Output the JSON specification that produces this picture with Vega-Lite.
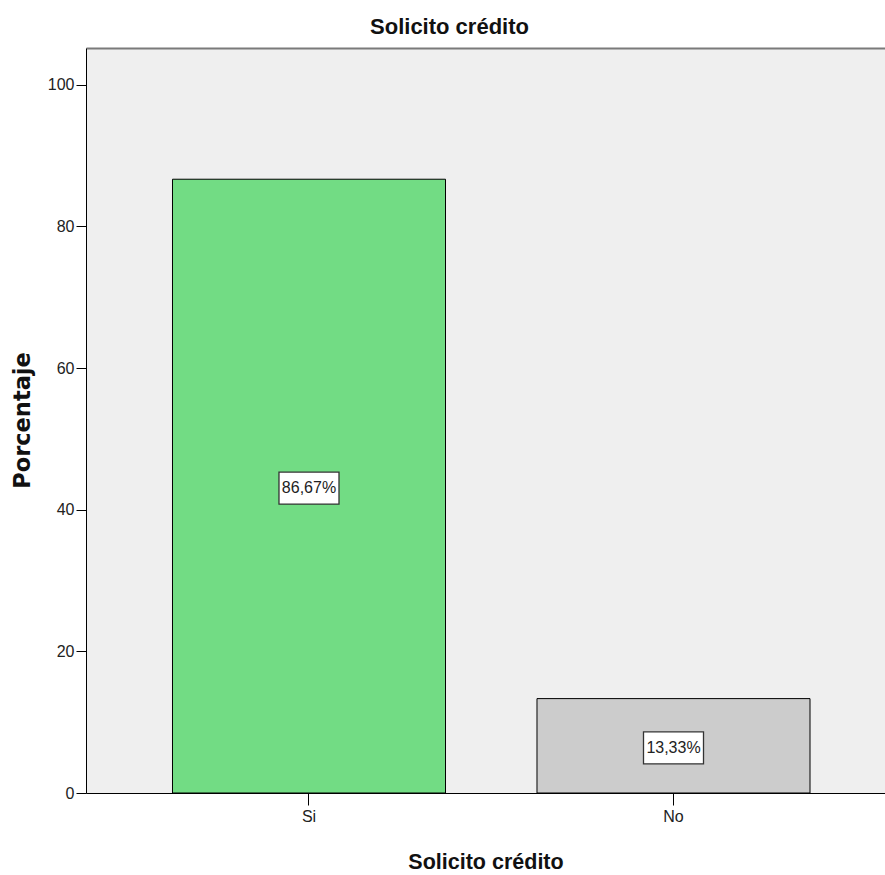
{
  "$schema": "https://vega.github.io/schema/vega-lite/v6.json",
  "width": 799,
  "height": 745,
  "autosize": {"type": "none"},
  "padding": {"left": 86, "top": 48, "right": 0, "bottom": 82},
  "background": "white",
  "title": {
    "text": "Solicito crédito",
    "font": "Liberation Sans, Arial, sans-serif",
    "fontSize": 22,
    "fontWeight": "bold",
    "color": "#111111",
    "anchor": "middle",
    "dx": -36,
    "dy": 22,
    "offset": 14,
    "baseline": "alphabetic"
  },
  "config": {
    "view": {"fill": "#efefef", "stroke": null}
  },
  "data": {
    "values": [
      {"categoria": "Si", "pct": 86.67, "label": "86,67%"},
      {"categoria": "No", "pct": 13.33, "label": "13,33%"}
    ]
  },
  "resolve": {"scale": {"y": "independent"}, "axis": {"x": "independent", "y": "independent"}},
  "layer": [
    {
      "mark": {"type": "bar", "stroke": "#000000", "strokeWidth": 1},
      "encoding": {
        "x": {
          "field": "categoria",
          "type": "nominal",
          "sort": ["Si", "No"],
          "scale": {"paddingInner": 0.251, "paddingOuter": 0.2215, "align": 0.5356},
          "axis": {
            "orient": "bottom",
            "domainColor": "#000000",
            "domainWidth": 1,
            "tickColor": "#000000",
            "tickSize": 12,
            "labelFont": "Liberation Sans, Arial, sans-serif",
            "labelFontSize": 16,
            "labelColor": "#222222",
            "labelPadding": 3,
            "labelAngle": 0,
            "title": "Solicito crédito",
            "titleFont": "Liberation Sans, Arial, sans-serif",
            "titleFontSize": 21.5,
            "titleFontWeight": "bold",
            "titleColor": "#111111",
            "titleY": 75,
            "titleBaseline": "alphabetic"
          }
        },
        "y": {
          "field": "pct",
          "type": "quantitative",
          "scale": {"domain": [0, 105.2], "nice": false},
          "axis": {
            "values": [0, 20, 40, 60, 80, 100],
            "grid": false,
            "domainColor": "#000000",
            "domainWidth": 1,
            "tickColor": "#000000",
            "tickSize": 10,
            "labelFont": "Liberation Sans, Arial, sans-serif",
            "labelFontSize": 16,
            "labelColor": "#222222",
            "labelPadding": 2,
            "title": "Porcentaje",
            "titleFont": "DejaVu Sans",
            "titleFontSize": 22.5,
            "titleFontWeight": "bold",
            "titleColor": "#111111",
            "titleX": -64,
            "titleY": 372,
            "titleAlign": "center",
            "titleBaseline": "middle"
          }
        },
        "color": {
          "field": "categoria",
          "type": "nominal",
          "scale": {"domain": ["Si", "No"], "range": ["#72dc84", "#cccccc"]},
          "legend": null
        }
      }
    },
    {
      "mark": {
        "type": "point",
        "shape": "M-1,-0.533H1V0.533H-1Z",
        "size": 3600,
        "filled": true,
        "fill": "#ffffff",
        "fillOpacity": 1,
        "stroke": "#333333",
        "strokeWidth": 1.3,
        "opacity": 1,
        "yOffset": 2
      },
      "encoding": {
        "x": {
          "field": "categoria",
          "type": "nominal",
          "sort": ["Si", "No"],
          "axis": {
            "orient": "top",
            "labels": false,
            "ticks": false,
            "title": null,
            "domainColor": "#7a7a7a",
            "domainWidth": 2
          }
        },
        "y": {
          "field": "pct",
          "type": "quantitative",
          "scale": {"domain": [0, 210.4], "nice": false},
          "axis": null
        }
      }
    },
    {
      "mark": {
        "type": "text",
        "font": "Liberation Sans, Arial, sans-serif",
        "fontSize": 16,
        "color": "#222222",
        "align": "center",
        "baseline": "middle",
        "yOffset": 2
      },
      "encoding": {
        "x": {"field": "categoria", "type": "nominal", "sort": ["Si", "No"], "axis": null},
        "y": {
          "field": "pct",
          "type": "quantitative",
          "scale": {"domain": [0, 210.4], "nice": false},
          "axis": null
        },
        "text": {"field": "label", "type": "nominal"}
      }
    }
  ]
}
